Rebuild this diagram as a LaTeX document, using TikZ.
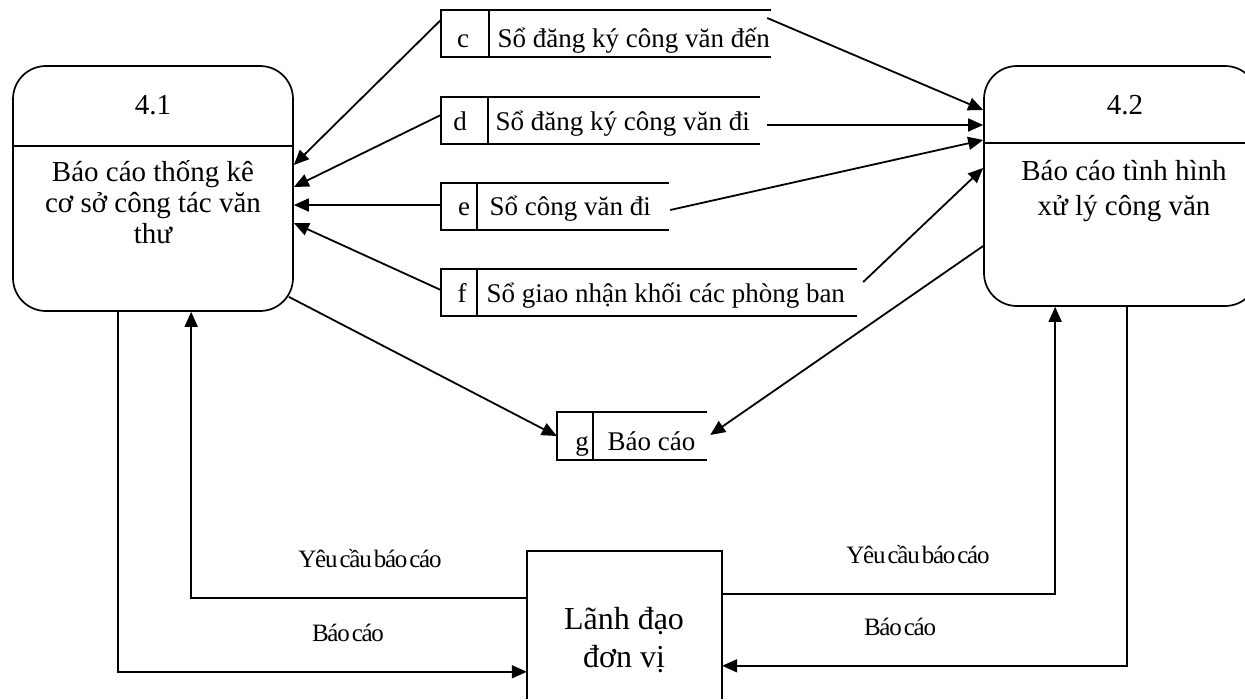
\documentclass[tikz,border=0pt]{standalone}
\usepackage{fontspec}
\setmainfont{Liberation Serif}
\newfontfamily\flowfont{Liberation Serif}[LetterSpace=-5]
\usetikzlibrary{arrows.meta,calc}

% tight type used for the flow labels
\newcommand\flowtype{\fontsize{25}{27}\flowfont\spaceskip=2pt\relax}

\tikzset{
  flow/.style={line width=1.8pt,-{Triangle[length=15pt,width=13pt]}},
  procbox/.style={draw,line width=1.7pt,rounded corners=33pt,inner sep=0pt},
  plainbox/.style={inner sep=0pt},
  storeline/.style={line width=1.7pt},
  proctext/.style={font=\fontsize{29}{31}\selectfont,align=center,anchor=base},
  leadtext/.style={font=\fontsize{32}{38}\selectfont,align=center,anchor=base},
  storetext/.style={font=\fontsize{27}{30}\selectfont,anchor=base west},
  storeid/.style={font=\fontsize{27}{30}\selectfont,anchor=base},
  flowlabel/.style={font=\flowtype,anchor=base},
}

% outline of a data store: open on the right, with a divider after the id
\newcommand\storeoutline[2]{%
  \draw[storeline] (#1.north east) -- (#1.north west) -- (#1.south west) -- (#1.south east);
  \draw[storeline] ($(#1.north west)+(#2,0)$) -- ($(#1.south west)+(#2,0)$);
}

\begin{document}
\begin{tikzpicture}[x=1pt,y=-1pt]
\useasboundingbox (0,0) rectangle (1245,699);

% processes (multi-line texts are placed by the baseline of their last line)
\node[procbox,minimum width=280pt,minimum height=245pt] (p41) at (153,188.5) {};
\draw[storeline] (p41.west |- 0,146) -- (p41.east |- 0,146);
\node[proctext] (n41) at (153,114) {4.1};
\node[proctext] (t41) at (153,243) {Báo cáo thống kê\\cơ sở công tác văn\\thư};

\node[procbox,minimum width=274pt,minimum height=240pt] (p42) at (1121,186) {};
\draw[storeline] (p42.west |- 0,143) -- (p42.east |- 0,143);
\node[proctext] (n42) at (1125,114) {4.2};
\node[proctext,font=\fontsize{29}{35}\selectfont] (t42) at (1124,215) {Báo cáo tình hình\\xử lý công văn};

% external entity, running off the bottom edge
\node[plainbox,minimum width=195pt,minimum height=148pt] (lead) at (624.5,625) {};
\draw[storeline] (lead.south west) -- (lead.north west) -- (lead.north east) -- (lead.south east);
\node[leadtext] (tlead) at (624,667) {Lãnh đạo\\đơn vị};

% data stores
\node[plainbox,minimum width=330pt,minimum height=47pt] (c) at (606,33.5) {};
\storeoutline{c}{48}
\node[storeid] (ic) at (463,47) {c};
\node[storetext] (sc) at (494,47) {Sổ đăng ký công văn đến};

\node[plainbox,minimum width=319pt,minimum height=47pt] (d) at (600.5,120.5) {};
\storeoutline{d}{47}
\node[storeid] (id) at (460,130) {d};
\node[storetext] (sd) at (492,130) {Sổ đăng ký công văn đi};

\node[plainbox,minimum width=228pt,minimum height=47pt] (e) at (555,206.5) {};
\storeoutline{e}{36}
\node[storeid] (ie) at (464,215) {e};
\node[storetext] (se) at (486,215) {Sổ công văn đi};

\node[plainbox,minimum width=416pt,minimum height=47pt] (f) at (649,292.5) {};
\storeoutline{f}{36}
\node[storeid] (if) at (462,302) {f};
\node[storetext] (sf) at (483,302) {Sổ giao nhận khối các phòng ban};

\node[plainbox,minimum width=150pt,minimum height=48pt] (g) at (632,436) {};
\storeoutline{g}{36}
\node[storeid] (ig) at (582,450) {g};
\node[storetext] (sg) at (604,450) {Báo cáo};

% stores feeding 4.1
\draw[flow] ($(c.west)+(0,-13.5)$) -- (p41.east |- 0,165);
\draw[flow] ($(d.west)+(0,-5.5)$) -- (p41.east |- 0,187);
\draw[flow] ($(e.west)+(0,-1.5)$) -- (p41.east |- 0,205);
\draw[flow] ($(f.west)+(0,-2.5)$) -- (p41.east |- 0,223);

% stores feeding 4.2
\draw[flow] ($(c.east)+(-4,-15.5)$) -- (p42.west |- 0,110);
\draw[flow] ($(d.east)+(7,4.5)$) -- (p42.west |- 0,125);
\draw[flow] ($(e.east)+(1,3.5)$) -- (p42.west |- 0,140);
\draw[flow] ($(f.east)+(6,-10.5)$) -- (p42.west |- 0,168);

% reports written to store g
\draw[flow] ($(p41.south east)+(-5,-15)$) -- (g.west);
\draw[flow] ($(p42.west)+(0,60)$) -- ($(g.east)+(3,-1)$);

% exchanges with the unit leader
\draw[flow] ($(p41.south west)+(106,0)$) |- ($(lead.north west)+(0,121)$);
\draw[flow] ($(lead.north west)+(0,47)$) -| ($(p41.south west)+(179,0)$);
\draw[flow] ($(lead.north east)+(0,43)$) -| ($(p42.south west)+(72,0)$);
\draw[flow] ($(p42.south west)+(144,0)$) |- ($(lead.north east)+(0,115)$);

\node[flowlabel] (l1) at (370,567) {Yêu cầu báo cáo};
\node[flowlabel] (l2) at (348,641) {Báo cáo};
\node[flowlabel] (l3) at (918,563) {Yêu cầu báo cáo};
\node[flowlabel] (l4) at (900,635) {Báo cáo};
\end{tikzpicture}
\end{document}
